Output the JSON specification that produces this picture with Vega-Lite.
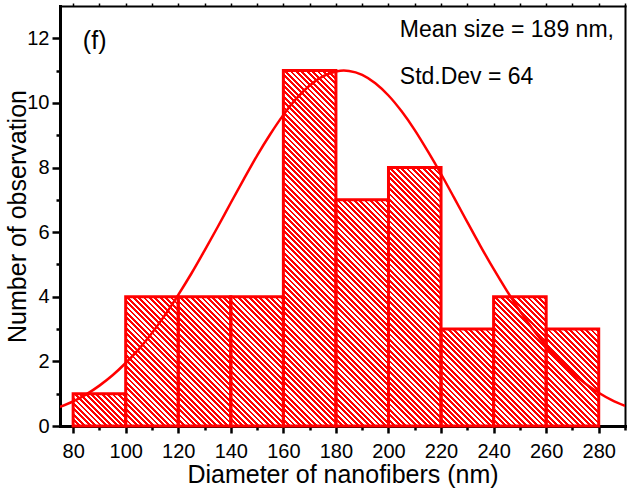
{
  "$schema": "https://vega.github.io/schema/vega-lite/v6.json",
  "width": 565,
  "height": 420,
  "autosize": {"type": "none"},
  "padding": {"left": 60, "top": 6, "right": 2, "bottom": 62},
  "background": "white",
  "config": {
    "view": {"stroke": null},
    "font": "Liberation Sans",
    "scale": {"continuousPadding": 0},
    "axis": {"grid": false, "labelFont": "Liberation Sans", "titleFont": "Liberation Sans", "labelColor": "black", "titleColor": "black", "tickColor": "black", "domainColor": "black", "titleFontWeight": "normal"}
  },
  "datasets": {
    "observations": [
      {"obs": 1, "start": 80, "end": 100},
      {"obs": 2, "start": 100, "end": 120},
      {"obs": 3, "start": 100, "end": 120},
      {"obs": 4, "start": 100, "end": 120},
      {"obs": 5, "start": 100, "end": 120},
      {"obs": 6, "start": 120, "end": 140},
      {"obs": 7, "start": 120, "end": 140},
      {"obs": 8, "start": 120, "end": 140},
      {"obs": 9, "start": 120, "end": 140},
      {"obs": 10, "start": 140, "end": 160},
      {"obs": 11, "start": 140, "end": 160},
      {"obs": 12, "start": 140, "end": 160},
      {"obs": 13, "start": 140, "end": 160},
      {"obs": 14, "start": 160, "end": 180},
      {"obs": 15, "start": 160, "end": 180},
      {"obs": 16, "start": 160, "end": 180},
      {"obs": 17, "start": 160, "end": 180},
      {"obs": 18, "start": 160, "end": 180},
      {"obs": 19, "start": 160, "end": 180},
      {"obs": 20, "start": 160, "end": 180},
      {"obs": 21, "start": 160, "end": 180},
      {"obs": 22, "start": 160, "end": 180},
      {"obs": 23, "start": 160, "end": 180},
      {"obs": 24, "start": 160, "end": 180},
      {"obs": 25, "start": 180, "end": 200},
      {"obs": 26, "start": 180, "end": 200},
      {"obs": 27, "start": 180, "end": 200},
      {"obs": 28, "start": 180, "end": 200},
      {"obs": 29, "start": 180, "end": 200},
      {"obs": 30, "start": 180, "end": 200},
      {"obs": 31, "start": 180, "end": 200},
      {"obs": 32, "start": 200, "end": 220},
      {"obs": 33, "start": 200, "end": 220},
      {"obs": 34, "start": 200, "end": 220},
      {"obs": 35, "start": 200, "end": 220},
      {"obs": 36, "start": 200, "end": 220},
      {"obs": 37, "start": 200, "end": 220},
      {"obs": 38, "start": 200, "end": 220},
      {"obs": 39, "start": 200, "end": 220},
      {"obs": 40, "start": 220, "end": 240},
      {"obs": 41, "start": 220, "end": 240},
      {"obs": 42, "start": 220, "end": 240},
      {"obs": 43, "start": 240, "end": 260},
      {"obs": 44, "start": 240, "end": 260},
      {"obs": 45, "start": 240, "end": 260},
      {"obs": 46, "start": 240, "end": 260},
      {"obs": 47, "start": 260, "end": 280},
      {"obs": 48, "start": 260, "end": 280},
      {"obs": 49, "start": 260, "end": 280}
    ],
    "fit": [
      {"d": 75, "n": 0.59}, {"d": 80, "n": 0.76}, {"d": 85, "n": 0.98}, {"d": 90, "n": 1.25},
      {"d": 95, "n": 1.57}, {"d": 100, "n": 1.95}, {"d": 105, "n": 2.38}, {"d": 110, "n": 2.88},
      {"d": 115, "n": 3.44}, {"d": 120, "n": 4.06}, {"d": 125, "n": 4.72}, {"d": 130, "n": 5.43},
      {"d": 135, "n": 6.16}, {"d": 140, "n": 6.91}, {"d": 145, "n": 7.65}, {"d": 150, "n": 8.37},
      {"d": 155, "n": 9.03}, {"d": 160, "n": 9.63}, {"d": 165, "n": 10.14}, {"d": 170, "n": 10.54},
      {"d": 175, "n": 10.82}, {"d": 180, "n": 10.97}, {"d": 183, "n": 11.0}, {"d": 185, "n": 10.99},
      {"d": 190, "n": 10.87}, {"d": 195, "n": 10.61}, {"d": 200, "n": 10.23}, {"d": 205, "n": 9.74},
      {"d": 210, "n": 9.16}, {"d": 215, "n": 8.5}, {"d": 220, "n": 7.8}, {"d": 225, "n": 7.06},
      {"d": 230, "n": 6.31}, {"d": 235, "n": 5.57}, {"d": 240, "n": 4.86}, {"d": 245, "n": 4.19},
      {"d": 250, "n": 3.56}, {"d": 255, "n": 2.99}, {"d": 260, "n": 2.48}, {"d": 265, "n": 2.03},
      {"d": 270, "n": 1.64}, {"d": 275, "n": 1.31}, {"d": 280, "n": 1.03}, {"d": 285, "n": 0.8},
      {"d": 290, "n": 0.62}
    ],
    "annotation": [{"note": "annotation"}]
  },
  "resolve": {"axis": {"x": "independent", "y": "independent"}},
  "layer": [
    {
      "data": {"name": "observations"},
      "mark": {
        "type": "bar",
        "strokeWidth": 1,
        "fill": {
          "gradient": "linear", "x1": 0, "y1": 1, "x2": 1.1719, "y2": 0.2796,
          "stops": [
            {"offset": 0, "color": "#ff0000"}, {"offset": 0.03331, "color": "#ff0000"}, {"offset": 0.03331, "color": "#ffffff"}, {"offset": 0.06345, "color": "#ffffff"},
            {"offset": 0.06345, "color": "#ff0000"}, {"offset": 0.09676, "color": "#ff0000"}, {"offset": 0.09676, "color": "#ffffff"}, {"offset": 0.1269, "color": "#ffffff"},
            {"offset": 0.1269, "color": "#ff0000"}, {"offset": 0.16021, "color": "#ff0000"}, {"offset": 0.16021, "color": "#ffffff"}, {"offset": 0.19035, "color": "#ffffff"},
            {"offset": 0.19035, "color": "#ff0000"}, {"offset": 0.22366, "color": "#ff0000"}, {"offset": 0.22366, "color": "#ffffff"}, {"offset": 0.2538, "color": "#ffffff"},
            {"offset": 0.2538, "color": "#ff0000"}, {"offset": 0.28711, "color": "#ff0000"}, {"offset": 0.28711, "color": "#ffffff"}, {"offset": 0.31725, "color": "#ffffff"},
            {"offset": 0.31725, "color": "#ff0000"}, {"offset": 0.35056, "color": "#ff0000"}, {"offset": 0.35056, "color": "#ffffff"}, {"offset": 0.3807, "color": "#ffffff"},
            {"offset": 0.3807, "color": "#ff0000"}, {"offset": 0.41401, "color": "#ff0000"}, {"offset": 0.41401, "color": "#ffffff"}, {"offset": 0.44415, "color": "#ffffff"},
            {"offset": 0.44415, "color": "#ff0000"}, {"offset": 0.47746, "color": "#ff0000"}, {"offset": 0.47746, "color": "#ffffff"}, {"offset": 0.5076, "color": "#ffffff"},
            {"offset": 0.5076, "color": "#ff0000"}, {"offset": 0.54091, "color": "#ff0000"}, {"offset": 0.54091, "color": "#ffffff"}, {"offset": 0.57105, "color": "#ffffff"},
            {"offset": 0.57105, "color": "#ff0000"}, {"offset": 0.60436, "color": "#ff0000"}, {"offset": 0.60436, "color": "#ffffff"}, {"offset": 0.6345, "color": "#ffffff"},
            {"offset": 0.6345, "color": "#ff0000"}, {"offset": 0.66781, "color": "#ff0000"}, {"offset": 0.66781, "color": "#ffffff"}, {"offset": 0.69795, "color": "#ffffff"},
            {"offset": 0.69795, "color": "#ff0000"}, {"offset": 0.73126, "color": "#ff0000"}, {"offset": 0.73126, "color": "#ffffff"}, {"offset": 0.7614, "color": "#ffffff"},
            {"offset": 0.7614, "color": "#ff0000"}, {"offset": 0.79471, "color": "#ff0000"}, {"offset": 0.79471, "color": "#ffffff"}, {"offset": 0.82485, "color": "#ffffff"},
            {"offset": 0.82485, "color": "#ff0000"}, {"offset": 0.85816, "color": "#ff0000"}, {"offset": 0.85816, "color": "#ffffff"}, {"offset": 0.8883, "color": "#ffffff"},
            {"offset": 0.8883, "color": "#ff0000"}, {"offset": 0.92161, "color": "#ff0000"}, {"offset": 0.92161, "color": "#ffffff"}, {"offset": 0.95175, "color": "#ffffff"},
            {"offset": 0.95175, "color": "#ff0000"}, {"offset": 0.98506, "color": "#ff0000"}, {"offset": 0.98506, "color": "#ffffff"}, {"offset": 1, "color": "#ffffff"}
          ]
        },
        "stroke": {
          "gradient": "linear", "x1": 0, "y1": 1, "x2": 1.1719, "y2": 0.2796,
          "stops": [
            {"offset": 0, "color": "#ff0000"}, {"offset": 0.03331, "color": "#ff0000"}, {"offset": 0.03331, "color": "#ffffff"}, {"offset": 0.06345, "color": "#ffffff"},
            {"offset": 0.06345, "color": "#ff0000"}, {"offset": 0.09676, "color": "#ff0000"}, {"offset": 0.09676, "color": "#ffffff"}, {"offset": 0.1269, "color": "#ffffff"},
            {"offset": 0.1269, "color": "#ff0000"}, {"offset": 0.16021, "color": "#ff0000"}, {"offset": 0.16021, "color": "#ffffff"}, {"offset": 0.19035, "color": "#ffffff"},
            {"offset": 0.19035, "color": "#ff0000"}, {"offset": 0.22366, "color": "#ff0000"}, {"offset": 0.22366, "color": "#ffffff"}, {"offset": 0.2538, "color": "#ffffff"},
            {"offset": 0.2538, "color": "#ff0000"}, {"offset": 0.28711, "color": "#ff0000"}, {"offset": 0.28711, "color": "#ffffff"}, {"offset": 0.31725, "color": "#ffffff"},
            {"offset": 0.31725, "color": "#ff0000"}, {"offset": 0.35056, "color": "#ff0000"}, {"offset": 0.35056, "color": "#ffffff"}, {"offset": 0.3807, "color": "#ffffff"},
            {"offset": 0.3807, "color": "#ff0000"}, {"offset": 0.41401, "color": "#ff0000"}, {"offset": 0.41401, "color": "#ffffff"}, {"offset": 0.44415, "color": "#ffffff"},
            {"offset": 0.44415, "color": "#ff0000"}, {"offset": 0.47746, "color": "#ff0000"}, {"offset": 0.47746, "color": "#ffffff"}, {"offset": 0.5076, "color": "#ffffff"},
            {"offset": 0.5076, "color": "#ff0000"}, {"offset": 0.54091, "color": "#ff0000"}, {"offset": 0.54091, "color": "#ffffff"}, {"offset": 0.57105, "color": "#ffffff"},
            {"offset": 0.57105, "color": "#ff0000"}, {"offset": 0.60436, "color": "#ff0000"}, {"offset": 0.60436, "color": "#ffffff"}, {"offset": 0.6345, "color": "#ffffff"},
            {"offset": 0.6345, "color": "#ff0000"}, {"offset": 0.66781, "color": "#ff0000"}, {"offset": 0.66781, "color": "#ffffff"}, {"offset": 0.69795, "color": "#ffffff"},
            {"offset": 0.69795, "color": "#ff0000"}, {"offset": 0.73126, "color": "#ff0000"}, {"offset": 0.73126, "color": "#ffffff"}, {"offset": 0.7614, "color": "#ffffff"},
            {"offset": 0.7614, "color": "#ff0000"}, {"offset": 0.79471, "color": "#ff0000"}, {"offset": 0.79471, "color": "#ffffff"}, {"offset": 0.82485, "color": "#ffffff"},
            {"offset": 0.82485, "color": "#ff0000"}, {"offset": 0.85816, "color": "#ff0000"}, {"offset": 0.85816, "color": "#ffffff"}, {"offset": 0.8883, "color": "#ffffff"},
            {"offset": 0.8883, "color": "#ff0000"}, {"offset": 0.92161, "color": "#ff0000"}, {"offset": 0.92161, "color": "#ffffff"}, {"offset": 0.95175, "color": "#ffffff"},
            {"offset": 0.95175, "color": "#ff0000"}, {"offset": 0.98506, "color": "#ff0000"}, {"offset": 0.98506, "color": "#ffffff"}, {"offset": 1, "color": "#ffffff"}
          ]
        }
      },
      "encoding": {
        "x": {
          "field": "start", "type": "quantitative",
          "scale": {"domain": [75, 290], "nice": false, "zero": false, "padding": 0},
          "axis": {
            "orient": "bottom", "values": [80, 100, 120, 140, 160, 180, 200, 220, 240, 260, 280],
            "tickSize": 7, "tickWidth": 2.5, "domainWidth": 3, "domainCap": "square",
            "labelFontSize": 20, "labelPadding": 8, "labelFlush": false,
            "title": "Diameter of nanofibers (nm)", "titleFontSize": 25, "titlePadding": 1
          }
        },
        "x2": {"field": "end"},
        "y": {
          "aggregate": "count", "type": "quantitative", "stack": "zero",
          "scale": {"domain": [0, 13], "nice": false, "zero": true, "padding": 0},
          "axis": {
            "orient": "left", "values": [0, 2, 4, 6, 8, 10, 12],
            "tickSize": 8, "tickWidth": 2.5, "domainWidth": 3, "domainCap": "square",
            "labelFontSize": 20, "labelPadding": 3, "labelFlush": false,
            "title": "Number of observation", "titleFontSize": 25, "titleBaseline": "alphabetic", "titlePadding": 1
          }
        },
        "detail": {"field": "obs", "type": "nominal"}
      }
    },
    {
      "data": {"name": "observations"},
      "mark": {"type": "bar", "fill": null, "fillOpacity": 0, "stroke": "#ff0000", "strokeWidth": 3},
      "encoding": {
        "x": {
          "field": "start", "type": "quantitative",
          "scale": {"domain": [75, 290], "nice": false, "zero": false, "padding": 0},
          "axis": {"orient": "bottom", "values": [90, 110, 130, 150, 170, 190, 210, 230, 250, 270, 290], "tickSize": 4, "tickWidth": 2.5, "labels": false, "domain": false, "title": null}
        },
        "x2": {"field": "end"},
        "y": {
          "aggregate": "count", "type": "quantitative",
          "scale": {"domain": [0, 13], "nice": false, "zero": true, "padding": 0},
          "axis": {"orient": "left", "values": [1, 3, 5, 7, 9, 11], "tickSize": 4, "tickWidth": 2.5, "labels": false, "domain": false, "title": null}
        }
      }
    },
    {
      "data": {"name": "fit"},
      "mark": {"type": "line", "stroke": "#ff0000", "strokeWidth": 2.5, "interpolate": "monotone", "clip": true},
      "encoding": {
        "x": {
          "field": "d", "type": "quantitative",
          "scale": {"domain": [75, 290], "nice": false, "zero": false, "padding": 0},
          "axis": {"orient": "top", "values": [80, 90, 100, 110, 120, 130, 140, 150, 160, 170, 180, 190, 200, 210, 220, 230, 240, 250, 260, 270, 280, 290], "tickSize": 3, "tickWidth": 1.5, "labels": false, "domainWidth": 2, "domainCap": "square", "title": null}
        },
        "y": {
          "field": "n", "type": "quantitative",
          "scale": {"domain": [0, 13], "nice": false, "zero": true, "padding": 0},
          "axis": {"orient": "right", "ticks": false, "labels": false, "domainWidth": 2, "domainCap": "square", "title": null}
        }
      }
    },
    {
      "data": {"name": "annotation"},
      "mark": {"type": "text", "text": "(f)", "align": "left", "baseline": "alphabetic", "fontSize": 25, "font": "Liberation Sans", "color": "black"},
      "encoding": {
        "x": {"datum": 83.7, "type": "quantitative", "scale": {"domain": [75, 290], "nice": false, "zero": false, "padding": 0}, "axis": null},
        "y": {"datum": 11.68, "type": "quantitative", "scale": {"domain": [0, 13], "nice": false, "zero": true, "padding": 0}, "axis": null}
      }
    },
    {
      "data": {"name": "annotation"},
      "mark": {"type": "text", "text": "Mean size = 189 nm,", "align": "left", "baseline": "alphabetic", "fontSize": 23, "font": "Liberation Sans", "color": "black"},
      "encoding": {
        "x": {"datum": 204.3, "type": "quantitative", "scale": {"domain": [75, 290], "nice": false, "zero": false, "padding": 0}, "axis": null},
        "y": {"datum": 12.055, "type": "quantitative", "scale": {"domain": [0, 13], "nice": false, "zero": true, "padding": 0}, "axis": null}
      }
    },
    {
      "data": {"name": "annotation"},
      "mark": {"type": "text", "text": "Std.Dev = 64", "align": "left", "baseline": "alphabetic", "fontSize": 23, "font": "Liberation Sans", "color": "black"},
      "encoding": {
        "x": {"datum": 204.3, "type": "quantitative", "scale": {"domain": [75, 290], "nice": false, "zero": false, "padding": 0}, "axis": null},
        "y": {"datum": 10.59, "type": "quantitative", "scale": {"domain": [0, 13], "nice": false, "zero": true, "padding": 0}, "axis": null}
      }
    }
  ]
}
